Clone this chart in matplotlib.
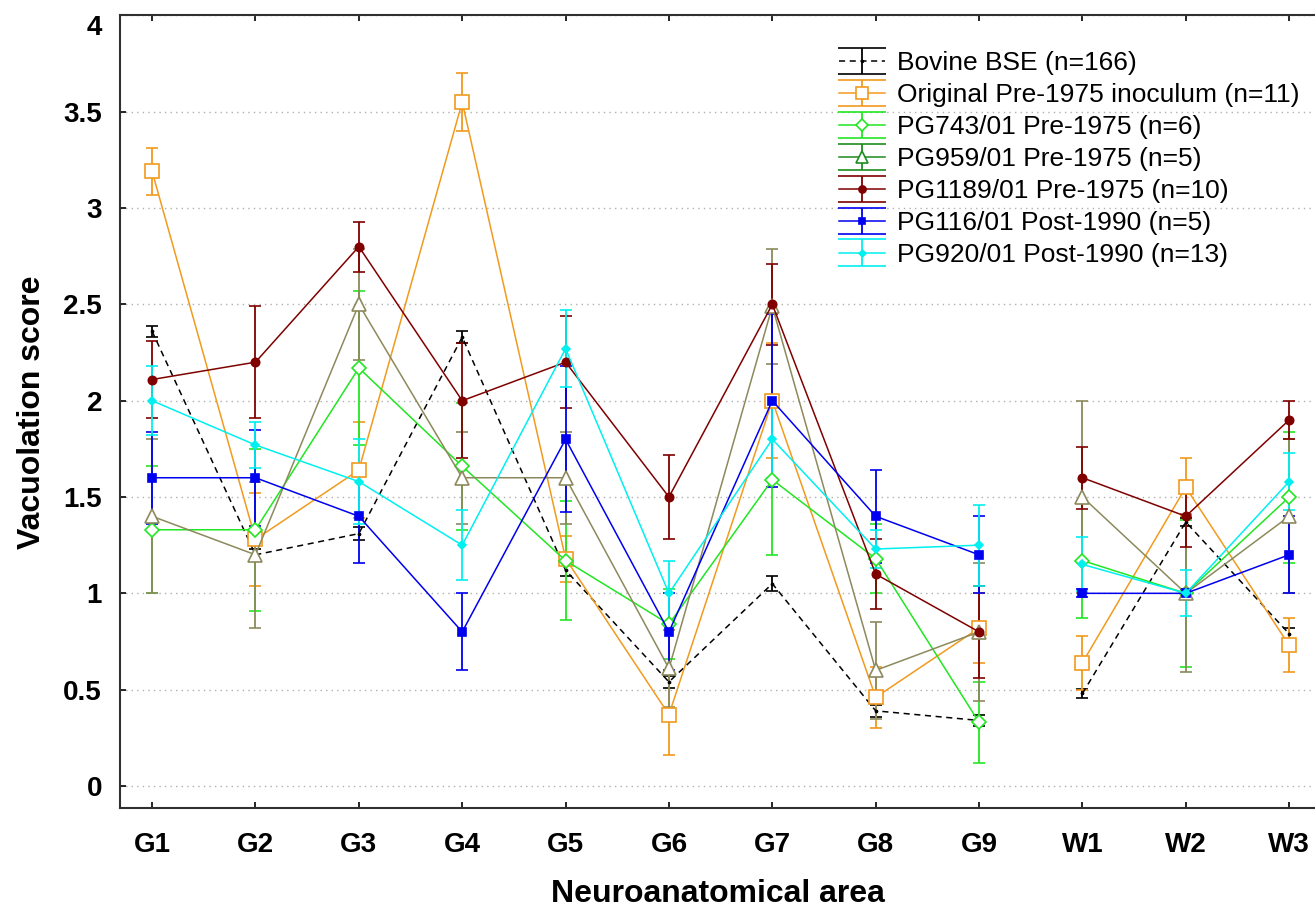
import numpy as np
import matplotlib
matplotlib.use("Agg")
import matplotlib.pyplot as plt

plt.rcParams["font.family"] = ["Liberation Sans", "DejaVu Sans"]

areas = ["G1", "G2", "G3", "G4", "G5", "G6", "G7", "G8", "G9", "W1", "W2", "W3"]

bovine = [2.36, 1.20, 1.31, 2.33, 1.12, 0.54, 1.05, 0.39, 0.34, 0.48, 1.37, 0.79]
bovine_err = [0.03, 0.03, 0.035, 0.03, 0.03, 0.03, 0.04, 0.03, 0.03, 0.025, 0.02, 0.03]

original = [3.19, 1.28, 1.64, 3.55, 1.18, 0.37, 2.00, 0.46, 0.82, 0.64, 1.55, 0.73]
original_err = [0.12, 0.24, 0.25, 0.15, 0.12, 0.21, 0.30, 0.16, 0.18, 0.14, 0.15, 0.14]

pg743 = [1.33, 1.33, 2.17, 1.66, 1.17, 0.84, 1.59, 1.18, 0.33, 1.17, 1.00, 1.50]
pg743_err = [0.33, 0.42, 0.40, 0.33, 0.31, 0.18, 0.39, 0.18, 0.21, 0.30, 0.38, 0.34]

pg959 = [1.40, 1.20, 2.50, 1.60, 1.60, 0.61, 2.49, 0.60, 0.80, 1.50, 1.00, 1.40]
pg959_err = [0.40, 0.38, 0.29, 0.24, 0.24, 0.20, 0.30, 0.25, 0.36, 0.50, 0.41, 0.40]

pg1189 = [2.11, 2.20, 2.80, 2.00, 2.20, 1.50, 2.50, 1.10, 0.80, 1.60, 1.40, 1.90]
pg1189_err = [0.20, 0.29, 0.13, 0.30, 0.24, 0.22, 0.21, 0.18, 0.24, 0.16, 0.16, 0.10]

pg116 = [1.60, 1.60, 1.40, 0.80, 1.80, 0.80, 2.00, 1.40, 1.20, 1.00, 1.00, 1.20]
pg116_err = [0.24, 0.25, 0.24, 0.20, 0.38, 0.20, 0.45, 0.24, 0.20, 0.02, 0.02, 0.20]

pg920 = [2.00, 1.77, 1.58, 1.25, 2.27, 1.00, 1.80, 1.23, 1.25, 1.15, 1.00, 1.58]
pg920_err = [0.18, 0.12, 0.22, 0.18, 0.20, 0.17, 0.20, 0.10, 0.21, 0.14, 0.12, 0.15]

# (values, errors, label, colour, marker, size, face, linestyle, legend colour)
series = [
    (bovine, bovine_err, "Bovine BSE (n=166)", "black", ".", 3, "black", (0, (4, 3)), "black"),
    (original, original_err, "Original Pre-1975 inoculum (n=11)", "#F29A1E", "s", 10, "white", "-", "#F29A1E"),
    (pg743, pg743_err, "PG743/01 Pre-1975 (n=6)", "#22E622", "D", 7.5, "white", "-", "#22E622"),
    (pg959, pg959_err, "PG959/01 Pre-1975 (n=5)", "#8C8A5C", "^", 10, "white", "-", "#1E8C1E"),
    (pg1189, pg1189_err, "PG1189/01 Pre-1975 (n=10)", "#800000", "o", 6, "#800000", "-", "#800000"),
    (pg116, pg116_err, "PG116/01 Post-1990 (n=5)", "#0000F0", "s", 5.5, "#0000F0", "-", "#0000F0"),
    (pg920, pg920_err, "PG920/01 Post-1990 (n=13)", "#00F0F0", "D", 4, "#00F0F0", "-", "#00F0F0"),
]

x = np.arange(1, len(areas) + 1)
segments = [slice(0, 9), slice(9, 12)]   # grey-matter and white-matter areas are not joined

fig = plt.figure(figsize=(13.15, 9.09), dpi=100)
ax = fig.add_axes([0.0913, 0.111, 0.9087, 0.872])

handles = []
for vals, errs, label, col, mk, ms, mfc, ls, lcol in series:
    vals = np.asarray(vals)
    errs = np.asarray(errs)
    for seg in segments:
        ax.errorbar(x[seg], vals[seg], yerr=errs[seg], color=col, ls=ls, lw=1.1,
                    marker=mk, ms=ms, mfc=mfc, mec=col, mew=1.2,
                    elinewidth=1.3, capsize=4.5, capthick=1.3, zorder=3)
    # legend-only proxy (PG959 is drawn green in the original legend)
    h = ax.errorbar([np.nan], [np.nan], yerr=[np.nan], color=lcol, ls=ls, lw=1.1,
                    marker=mk, ms=ms * 0.85, mfc=mfc if lcol == col else "white",
                    mec=lcol, mew=1.2, elinewidth=1.3, capsize=17, capthick=1.3,
                    label=label)
    handles.append(h)

ax.set_xlim(0.69, 12.25)
ax.set_ylim(-0.115, 4.0)
ax.set_xticks(x)
ax.set_xticklabels(areas)
ax.set_yticks(np.arange(0, 4.01, 0.5))
ax.set_yticklabels(["0", "0.5", "1", "1.5", "2", "2.5", "3", "3.5", "4"])
ax.yaxis.grid(True, ls=(0, (1, 3)), color="#b0b0b0", lw=1.0)
ax.set_axisbelow(True)
ax.tick_params(axis="both", direction="in", length=4, width=1.2, labelsize=20)
ax.tick_params(axis="y", pad=13)
ax.tick_params(axis="x", top=True, pad=17)
for lab in ax.get_xticklabels() + ax.get_yticklabels():
    lab.set_fontweight("bold")
ax.get_yticklabels()[-1].set_va("top")
for sp in ["left", "top", "bottom"]:
    ax.spines[sp].set_linewidth(1.5)
    ax.spines[sp].set_color("#303030")
ax.spines["right"].set_visible(False)

ax.set_xlabel("Neuroanatomical area", fontsize=23, fontweight="bold", labelpad=15)
ax.set_ylabel("Vacuolation score", fontsize=23, fontweight="bold", labelpad=12)

leg = ax.legend(handles=handles, loc="upper left", bbox_to_anchor=(0.586, 0.978),
                frameon=False, fontsize=19, handlelength=1.75, handletextpad=0.45,
                labelspacing=0.3, borderpad=0.2)

fig.savefig("out.png", dpi=100)
